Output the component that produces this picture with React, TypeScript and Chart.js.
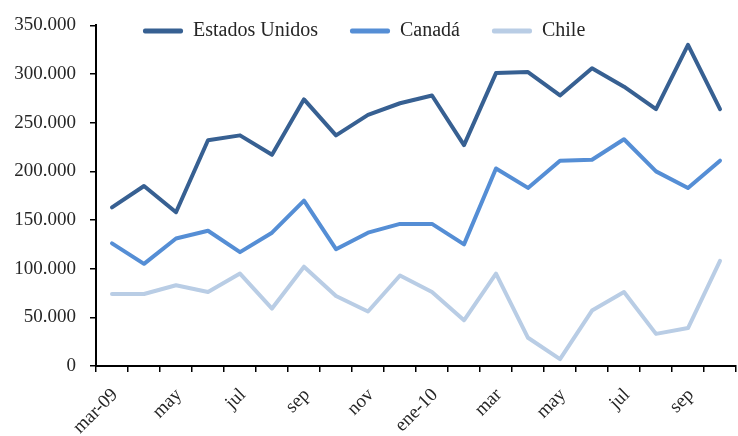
import React, { useEffect, useRef } from 'react';
import { Chart, registerables } from 'chart.js';

Chart.register(...registerables);

const categories = [
  'mar-09', 'abr-09', 'may-09', 'jun-09', 'jul-09', 'ago-09', 'sep-09', 'oct-09', 'nov-09', 'dic-09',
  'ene-10', 'feb-10', 'mar-10', 'abr-10', 'may-10', 'jun-10', 'jul-10', 'ago-10', 'sep-10', 'oct-10',
];
const tickLabels = [
  'mar-09', '', 'may', '', 'jul', '', 'sep', '', 'nov', '',
  'ene-10', '', 'mar', '', 'may', '', 'jul', '', 'sep', '',
];
const estadosUnidos = [
  163000, 185000, 158000, 232000, 237000, 217000, 274000, 237000, 258000, 270000,
  278000, 227000, 301000, 302000, 278000, 306000, 287000, 264000, 330000, 264000,
];
const canada = [
  126000, 105000, 131000, 139000, 117000, 137000, 170000, 120000, 137000, 146000,
  146000, 125000, 203000, 183000, 211000, 212000, 233000, 200000, 183000, 211000,
];
const chile = [
  74000, 74000, 83000, 76000, 95000, 59000, 102000, 72000, 56000, 93000,
  76000, 47000, 95000, 29000, 7000, 57000, 76000, 33000, 39000, 108000,
];
const seriesNames = ['Estados Unidos', 'Canadá', 'Chile'];
const seriesColors = ['#376092', '#558ED5', '#B9CDE5'];

const FONT = "'Liberation Serif', 'Times New Roman', serif";
const TEXT_COLOR = '#262626';
const LEGEND_PADDING = 32;
const LEGEND_FONT = 20;

const fmt = (v: number) => String(Math.round(v)).replace(/\B(?=(\d{3})+(?!\d))/g, '.');

// Places the (zero-height) top legend inside the plot area, like the original.
const legendShift = {
  id: 'legendShift',
  afterLayout(chart: any) {
    const lg = chart.legend;
    if (!lg) return;
    const dx = 143 - lg.left - LEGEND_PADDING;
    const newTop = 31 - LEGEND_PADDING - LEGEND_FONT / 2;
    lg.left += dx;
    lg.right += dx;
    lg.top = newTop;
    lg.height = 90;
    lg.bottom = newTop + 90;
  },
};

export default function App() {
  const ref = useRef<HTMLCanvasElement>(null);
  useEffect(() => {
    document.body.style.margin = '0';
    const data = [estadosUnidos, canada, chile];
    const chart = new Chart(ref.current!, {
      type: 'line',
      data: {
        labels: categories,
        datasets: data.map((d, i) => ({
          label: seriesNames[i],
          data: d,
          borderColor: seriesColors[i],
          backgroundColor: seriesColors[i],
          borderWidth: 4,
          pointRadius: 0,
          tension: 0,
          borderJoinStyle: 'round' as const,
          borderCapStyle: 'round' as const,
          fill: false,
        })),
      },
      options: {
        responsive: false,
        animation: false,
        layout: { padding: { top: 18, right: 2, left: 0, bottom: 0 } },
        plugins: {
          tooltip: { enabled: false },
          legend: {
            position: 'top',
            align: 'start',
            maxHeight: 0.01,
            labels: {
              font: { family: FONT, size: LEGEND_FONT },
              color: TEXT_COLOR,
              boxWidth: 40,
              boxHeight: 5,
              padding: LEGEND_PADDING,
              generateLabels: (c: any) =>
                (Chart.defaults.plugins.legend.labels.generateLabels as any)(c).map((l: any) => ({
                  ...l,
                  fillStyle: l.strokeStyle,
                  lineWidth: 0,
                  borderRadius: 2,
                })),
            },
          },
        },
        scales: {
          x: {
            offset: true,
            grid: { offset: true, drawOnChartArea: false, tickLength: 6, color: '#000', lineWidth: 1.5 },
            border: { display: true, color: '#000', width: 2 },
            ticks: {
              autoSkip: false,
              maxRotation: 45,
              minRotation: 45,
              padding: 12,
              labelOffset: 3,
              font: { family: FONT, size: 19 },
              color: TEXT_COLOR,
              callback: (_v: any, i: number) => tickLabels[i],
            },
            afterFit: (s: any) => { s.height = 70; s.paddingRight = 0; s.paddingLeft = 0; },
          },
          y: {
            min: 0,
            max: 350000,
            grid: { drawOnChartArea: false, tickLength: 6, color: '#000', lineWidth: 1.5 },
            border: { display: true, color: '#000', width: 2 },
            ticks: {
              stepSize: 50000,
              padding: 14,
              font: { family: FONT, size: 19 },
              color: TEXT_COLOR,
              callback: (v: any) => fmt(Number(v)),
            },
            afterFit: (s: any) => { s.width = 96; },
          },
        },
      },
      plugins: [legendShift],
    });
    return () => chart.destroy();
  }, []);
  return (
    <div style={{ width: 738, height: 436, background: '#fff' }}>
      <canvas ref={ref} width={738} height={436} />
    </div>
  );
}
